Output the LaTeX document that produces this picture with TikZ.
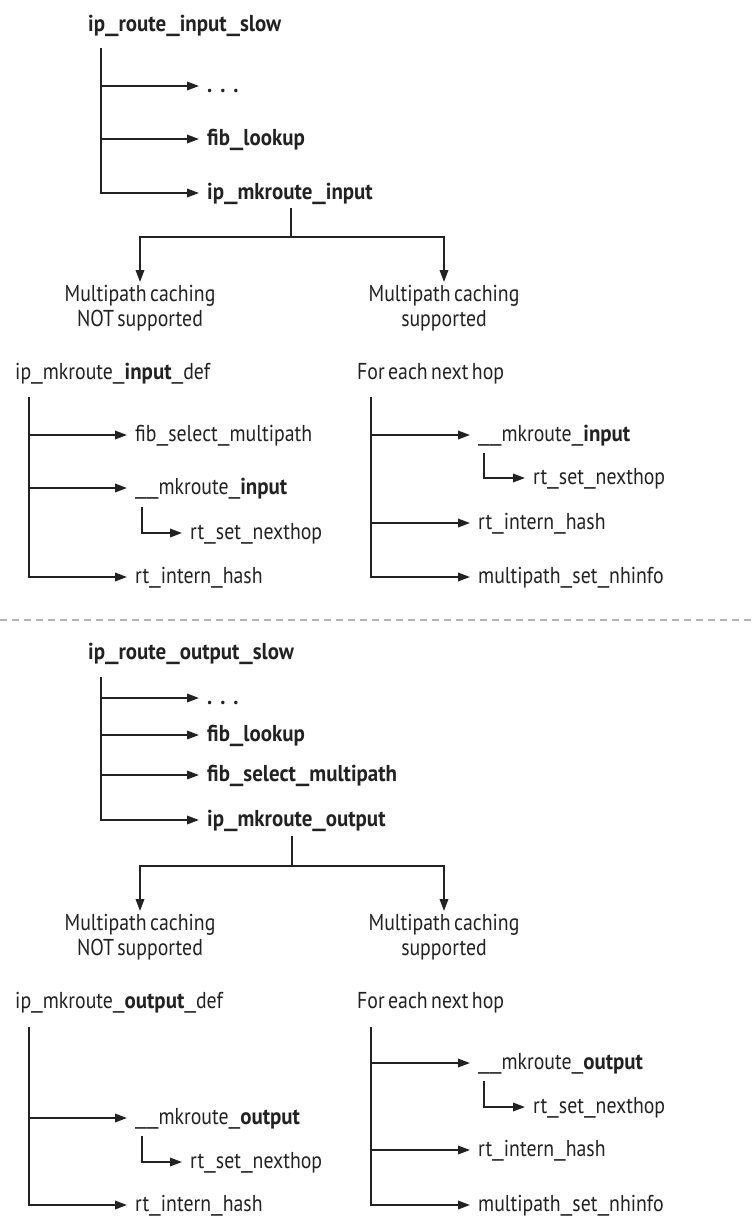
\documentclass[tikz,border=0pt]{standalone}
\usepackage{graphicx}
\usepackage{fontspec}
\setmainfont{PT Sans}[FakeStretch=0.86, WordSpace=0.65, BoldFeatures={FakeStretch=0.91}]
\usetikzlibrary{arrows.meta}
\definecolor{ink}{HTML}{222222}
\definecolor{dashgray}{HTML}{B4B4B4}
\newcommand{\us}{\scalebox{1.45}[1]{\_}}
\begin{document}
\begin{tikzpicture}[x=1pt,y=-1pt,
  ln/.style={line width=1.8pt, draw=ink},
  arr/.style={ln, -{Triangle[length=12pt,width=8.5pt]}},
  fn/.style={anchor=west, inner xsep=8pt, inner ysep=0pt, text height=12pt, text depth=0pt,
             font=\fontsize{23}{25}\selectfont, text=ink},
  capt/.style={anchor=north, align=center, inner sep=3pt,
             font=\fontsize{23}{25}\selectfont, text=ink}]
\useasboundingbox[fill=white] (0,0) rectangle (753,1216);

% ================= TOP =================
\node[fn] (p1) at (80,25) {\textbf{ip\us route\us input\us slow}};
\coordinate (t1) at (101,48);
\node[fn] (a1) at (199,86) {\textbf{.\hspace{8pt}.\hspace{8pt}.}};
\node[fn] (a2) at (199,139) {\textbf{fib\us lookup}};
\node[fn] (a3) at (199,193) {\textbf{ip\us mkroute\us input}};
\draw[arr] (t1) |- (a1.west);
\draw[arr] (t1) |- (a2.west);
\draw[arr] (t1) |- (a3.west);

\coordinate (s1) at (291,208);
\coordinate (j1) at (291,237);
\node[capt] (m1) at (140,282) {Multipath caching\\NOT supported};
\node[capt] (m2) at (444,282) {Multipath caching\\supported};
\draw[ln] (s1) -- (j1);
\draw[arr] (j1) -| (m1.north);
\draw[arr] (j1) -| (m2.north);

\node[fn] (l1) at (7,373) {ip\us mkroute\us\textbf{input}\us def};
\node[fn] (r1) at (349,373) {For each next hop};

\coordinate (tl1) at (29,397);
\node[fn] (b1) at (127,435) {fib\us select\us multipath};
\node[fn] (b2) at (127,488) {\us\us mkroute\us\textbf{input}};
\node[fn] (b3) at (127,577) {rt\us intern\us hash};
\coordinate (sb1) at (142,507);
\node[fn] (c1) at (182,533) {rt\us set\us nexthop};
\draw[arr] (tl1) |- (b1.west);
\draw[arr] (tl1) |- (b2.west);
\draw[arr] (tl1) |- (b3.west);
\draw[arr] (sb1) |- (c1.west);

\coordinate (tr1) at (371,397);
\node[fn] (d1) at (470,435) {\us\us mkroute\us\textbf{input}};
\node[fn] (d2) at (525,478) {rt\us set\us nexthop};
\node[fn] (d3) at (470,523) {rt\us intern\us hash};
\node[fn] (d4) at (470,577) {multipath\us set\us nhinfo};
\coordinate (sd1) at (484,453);
\draw[arr] (tr1) |- (d1.west);
\draw[arr] (tr1) |- (d3.west);
\draw[arr] (tr1) |- (d4.west);
\draw[arr] (sd1) |- (d2.west);

% ================= SEPARATOR =================
\coordinate (dl) at (0,620);
\coordinate (dr) at (753,620);
\draw[dashgray, line width=1.8pt, dash pattern=on 7pt off 5pt] (dl) -- (dr);

% ================= BOTTOM =================
\node[fn] (p2) at (80,653) {\textbf{ip\us route\us output\us slow}};
\coordinate (t2) at (101,677);
\node[fn] (e1) at (199,698) {\textbf{.\hspace{8pt}.\hspace{8pt}.}};
\node[fn] (e2) at (199,735) {\textbf{fib\us lookup}};
\node[fn] (e3) at (199,775) {\textbf{fib\us select\us multipath}};
\node[fn] (e4) at (199,820) {\textbf{ip\us mkroute\us output}};
\draw[arr] (t2) |- (e1.west);
\draw[arr] (t2) |- (e2.west);
\draw[arr] (t2) |- (e3.west);
\draw[arr] (t2) |- (e4.west);

\coordinate (s2) at (292,836);
\coordinate (j2) at (292,866);
\node[capt] (m3) at (140,911) {Multipath caching\\NOT supported};
\node[capt] (m4) at (444,911) {Multipath caching\\supported};
\draw[ln] (s2) -- (j2);
\draw[arr] (j2) -| (m3.north);
\draw[arr] (j2) -| (m4.north);

\node[fn] (l2) at (7,1002) {ip\us mkroute\us\textbf{output}\us def};
\node[fn] (r2) at (349,1002) {For each next hop};

\coordinate (tl2) at (29,1027);
\node[fn] (f1) at (127,1118) {\us\us mkroute\us\textbf{output}};
\node[fn] (f2) at (182,1162) {rt\us set\us nexthop};
\node[fn] (f3) at (127,1205) {rt\us intern\us hash};
\coordinate (sf1) at (142,1136);
\draw[arr] (tl2) |- (f1.west);
\draw[arr] (tl2) |- (f3.west);
\draw[arr] (sf1) |- (f2.west);

\coordinate (tr2) at (371,1027);
\node[fn] (g1) at (470,1063) {\us\us mkroute\us\textbf{output}};
\node[fn] (g2) at (525,1107) {rt\us set\us nexthop};
\node[fn] (g3) at (470,1150) {rt\us intern\us hash};
\node[fn] (g4) at (470,1205) {multipath\us set\us nhinfo};
\coordinate (sg1) at (484,1081);
\draw[arr] (tr2) |- (g1.west);
\draw[arr] (tr2) |- (g3.west);
\draw[arr] (tr2) |- (g4.west);
\draw[arr] (sg1) |- (g2.west);
\end{tikzpicture}
\end{document}
